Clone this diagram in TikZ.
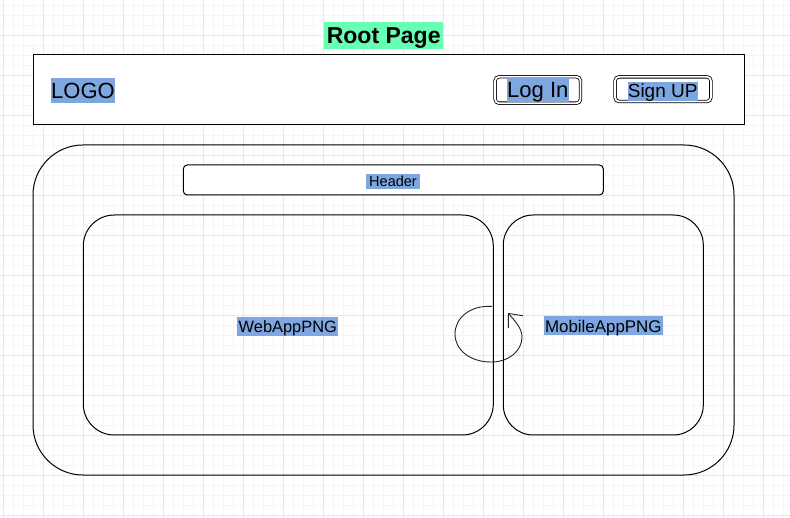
\documentclass[tikz,border=0pt]{standalone}
\usepackage{fontspec}
\setmainfont{Liberation Sans}
\usetikzlibrary{arrows.meta}
\definecolor{hl}{HTML}{7EA6E0}
\definecolor{mint}{HTML}{66FFB3}
\definecolor{gminor}{HTML}{F5F5F5}
\definecolor{gmajor}{HTML}{E8E8E8}
\begin{document}
\begin{tikzpicture}[x=1pt,y=-1pt,
  box/.style={draw=black,line width=1pt,inner sep=0pt,rectangle},
  lbl/.style={fill=hl,inner sep=0pt,text depth=0pt,align=center},
  btn/.style={draw=black,line width=0.8pt,double=white,double distance=1.8pt,rounded corners=4pt,inner sep=0pt,rectangle}
]
\useasboundingbox (0,0) rectangle (790,518);
\fill[white] (0,0) rectangle (790,518);
% grid
\foreach \x in {3,13,...,783} \draw[gminor,line width=0.8pt] (\x,0) -- (\x,518);
\foreach \y in {5,15,...,515} \draw[gminor,line width=0.8pt] (0,\y) -- (790,\y);
\foreach \x in {3,43,...,783} \draw[gmajor,line width=0.8pt] (\x,0) -- (\x,518);
\foreach \y in {35,75,...,515} \draw[gmajor,line width=0.8pt] (0,\y) -- (790,\y);

% title
\node[fill=mint,inner sep=0pt,text height=16.5pt,text depth=0pt,minimum width=119pt,minimum height=27pt,font=\fontsize{23}{27}\selectfont\bfseries] (title) at (383.7,35.5) {Root Page};

% top bar
\node[box,fill=white,minimum width=711pt,minimum height=70pt] (topbar) at (388.5,90) {};
\node[lbl,text height=15.75pt,minimum width=64pt,minimum height=25pt,font=\fontsize{22}{26}\selectfont] (logo) at (83,90.3) {LOGO};
\node[btn,minimum width=85.4pt,minimum height=26.4pt] (login) at (537.8,90) {};
\node[lbl,text height=15.75pt,minimum width=62pt,minimum height=24pt,font=\fontsize{22}{26}\selectfont] (loginlbl) at (537.8,90) {Log In};
\node[btn,minimum width=95.8pt,minimum height=24.7pt] (signup) at (663,89.2) {};
\node[lbl,text height=13.6pt,minimum width=70pt,minimum height=19pt,font=\fontsize{19}{22}\selectfont] (signuplbl) at (662.7,91.2) {Sign UP};

% main container
\node[box,minimum width=701pt,minimum height=330pt,rounded corners=50pt] (main) at (383.5,310) {};
\node[box,fill=white,minimum width=420pt,minimum height=30pt,rounded corners=4pt] (header) at (393.3,180) {};
\node[lbl,text height=10.4pt,minimum width=54pt,minimum height=15pt,font=\fontsize{14.5}{17}\selectfont] (headerlbl) at (393,181.5) {Header};
\node[box,minimum width=410pt,minimum height=220pt,rounded corners=31pt] (web) at (288.3,325) {};
\node[lbl,text height=11.7pt,minimum width=101pt,minimum height=19pt,font=\fontsize{16.4}{19}\selectfont] (weblbl) at (287.8,326.2) {WebAppPNG};
\node[box,minimum width=200pt,minimum height=220pt,rounded corners=30pt] (mobile) at (603.3,325) {};
\node[lbl,text height=12.1pt,minimum width=118.7pt,minimum height=19pt,font=\fontsize{16.9}{19}\selectfont] (mobilelbl) at (603.3,326) {MobileAppPNG};

% circular arrow
\coordinate (cs) at (492,306.5);
\coordinate (ce) at (508,313);
\draw[line width=0.9pt,draw=black!85,-{Straight Barb[length=11pt,width=19pt]}]
  (cs) .. controls (470,305) and (455,318) .. (455,334)
       .. controls (455,350) and (470,362) .. (491,362)
       .. controls (510,362) and (522,350) .. (522,337)
       .. controls (522,328) and (514.5,320.6) .. (ce);
\end{tikzpicture}
\end{document}
